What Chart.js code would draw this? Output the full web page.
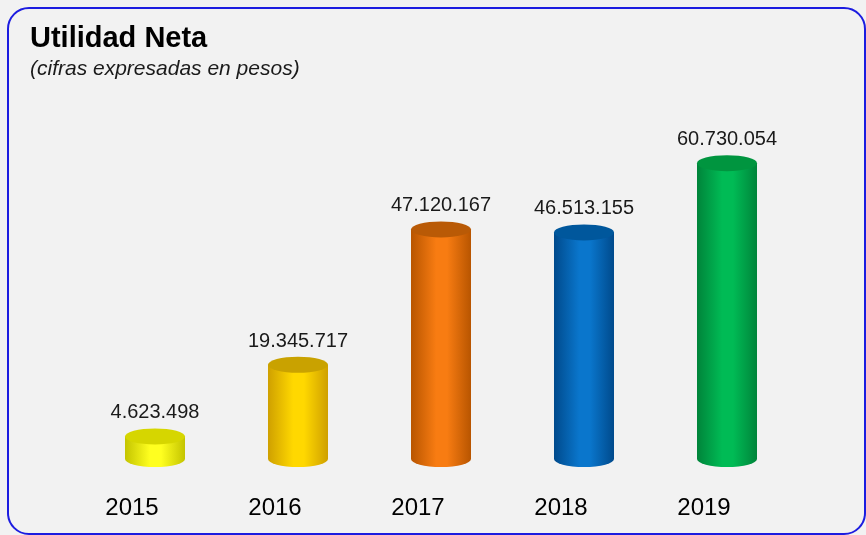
<!DOCTYPE html>
<html>
<head>
<meta charset="utf-8">
<script src="https://cdn.jsdelivr.net/npm/chart.js@4"></script>
<style>
  html, body { margin: 0; padding: 0; background: #f2f2f2; overflow: hidden; }
  #wrap { position: relative; width: 866px; height: 535px; }
  #frame {
    position: absolute; left: 7px; top: 7px; width: 859px; height: 528px;
    box-sizing: border-box; border: 2.5px solid #1c1ce0; border-radius: 22px;
    pointer-events: none;
  }
</style>
</head>
<body>
<div id="wrap">
  <canvas id="chart"></canvas>
  <div id="frame"></div>
</div>
<script>
// ---- Data ----
const years = ['2015', '2016', '2017', '2018', '2019'];
const utilidad = [4623498, 19345717, 47120167, 46513155, 60730054];

// cylinder colours: edge, highlight, top cap
const bodyEdge = ['#c4c400', '#cfa000', '#b85500', '#004a8c', '#00843a'];
const bodyLight = ['#ffff20', '#ffd800', '#f87c12', '#0a76cc', '#00bb55'];
const topColor = ['#d6d600', '#c9a200', '#b95a06', '#00579c', '#00953f'];

const FONT = '"Liberation Sans", Arial, sans-serif';

function fmt(n) {
  return String(n).replace(/\B(?=(\d{3})+(?!\d))/g, '.');
}

// draws each bar as a cylinder from the bar element geometry
const cylinders = {
  id: 'cylinders',
  afterDatasetsDraw(chart) {
    const ctx = chart.ctx;
    const meta = chart.getDatasetMeta(0);
    meta.data.forEach((el, i) => {
      const x = el.x, top = el.y, base = el.base;
      const rx = el.width / 2, ry = 8;

      const g = ctx.createLinearGradient(x - rx, 0, x + rx, 0);
      g.addColorStop(0, bodyEdge[i]);
      g.addColorStop(0.42, bodyLight[i]);
      g.addColorStop(0.6, bodyLight[i]);
      g.addColorStop(1, bodyEdge[i]);

      ctx.save();
      ctx.beginPath();
      ctx.moveTo(x - rx, top);
      ctx.lineTo(x - rx, base);
      ctx.ellipse(x, base, rx, ry, 0, Math.PI, 0, true);
      ctx.lineTo(x + rx, top);
      ctx.closePath();
      ctx.fillStyle = g;
      ctx.fill();

      ctx.beginPath();
      ctx.ellipse(x, top, rx, ry, 0, 0, Math.PI * 2);
      ctx.fillStyle = topColor[i];
      ctx.fill();

      ctx.fillStyle = '#1a1a1a';
      ctx.font = '20px ' + FONT;
      ctx.textAlign = 'center';
      ctx.textBaseline = 'alphabetic';
      ctx.fillText(fmt(utilidad[i]), x, top - ry - 10);
      ctx.restore();
    });
  }
};

new Chart(document.getElementById('chart'), {
  type: 'bar',
  data: {
    labels: years,
    datasets: [{
      data: utilidad,
      backgroundColor: 'rgba(0,0,0,0)',
      barThickness: 60
    }]
  },
  options: {
    responsive: true,
    maintainAspectRatio: false,
    animation: false,
    layout: { padding: { left: 30, right: 67.5, top: 0, bottom: 12 } },
    plugins: {
      legend: { display: false },
      tooltip: { enabled: false },
      title: {
        display: true,
        text: 'Utilidad Neta',
        align: 'start',
        color: '#000',
        font: { family: FONT, size: 29, weight: 'bold' },
        padding: { top: 22, bottom: 0 }
      },
      subtitle: {
        display: true,
        text: '(cifras expresadas en pesos)',
        align: 'start',
        color: '#1a1a1a',
        font: { family: FONT, size: 21, style: 'italic' },
        padding: { top: 0, bottom: 36 }
      }
    },
    scales: {
      x: {
        grid: { display: false, drawTicks: false },
        border: { display: false },
        ticks: {
          color: '#000',
          font: { family: FONT, size: 24 },
          padding: 35,
          labelOffset: -23
        },
        afterFit(scale) { scale.height = 64; }
      },
      y: {
        min: 0,
        max: 70000000,
        grid: { display: false, drawTicks: false },
        border: { display: false },
        ticks: { display: false },
        afterFit(scale) { scale.width = 53.5; }
      }
    }
  },
  plugins: [cylinders]
});
</script>
</body>
</html>
